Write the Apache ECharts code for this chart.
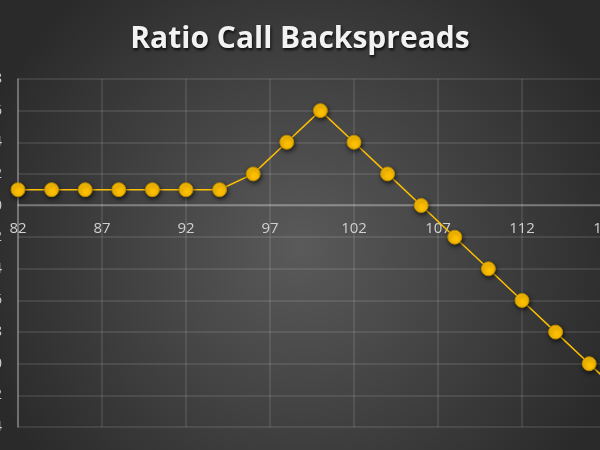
<!DOCTYPE html>
<html>
<head>
<meta charset="utf-8">
<script src="https://cdn.jsdelivr.net/npm/echarts@6/dist/echarts.min.js"></script>
<style>html,body{margin:0;padding:0;background:#3a3a3a;}#c{width:600px;height:450px;}</style>
</head>
<body>
<div id="c"></div>
<script>
var titleText = 'Ratio Call Backspreads';
var strikes = [82, 84, 86, 88, 90, 92, 94, 96, 98, 100, 102, 104, 106, 108, 110, 112, 114, 116, 118];
var payoff  = [1, 1, 1, 1, 1, 1, 1, 2, 4, 6, 4, 2, 0, -2, -4, -6, -8, -10, -12];

var chart = echarts.init(document.getElementById('c'));
chart.setOption({
  animation: false,
  backgroundColor: {
    type: 'radial', x: 0.5, y: 0.55, r: 0.75,
    colorStops: [{offset: 0, color: '#5a5a5a'}, {offset: 1, color: '#2a2a2a'}]
  },
  title: {
    text: titleText, left: 'center', top: 19,
    textStyle: {
      color: '#f2f2f2', fontFamily: 'Open Sans', fontWeight: 'bold', fontSize: 30,
      textShadowColor: 'rgba(0,0,0,0.8)', textShadowBlur: 3, textShadowOffsetX: 1, textShadowOffsetY: 2
    }
  },
  grid: { left: 18, right: -56.4, top: 79, bottom: 23, containLabel: false, outerBoundsMode: 'none' },
  xAxis: {
    type: 'value', min: 82, max: 120, interval: 5,
    offset: -221.9,
    axisLine: { show: true, onZero: false, lineStyle: { color: 'rgba(255,255,255,0.35)', width: 1.5 } },
    axisTick: { show: false },
    axisLabel: { color: '#d0d0d0', fontFamily: 'Open Sans', fontSize: 15, margin: 16,
      showMaxLabel: false },
    splitLine: { show: true, lineStyle: { color: 'rgba(255,255,255,0.13)', width: 1.5 } }
  },
  yAxis: {
    type: 'value', min: -14, max: 8, interval: 2,
    axisLine: { show: true, onZero: false, lineStyle: { color: 'rgba(255,255,255,0.35)', width: 1.5 } },
    axisTick: { show: false },
    axisLabel: { color: '#d0d0d0', fontFamily: 'Open Sans', fontSize: 14, margin: 16 },
    splitLine: { show: true, lineStyle: { color: 'rgba(255,255,255,0.13)', width: 1.5 } }
  },
  series: [{
    type: 'line',
    data: strikes.map(function (s, i) { return [s, payoff[i]]; }),
    symbol: 'circle', symbolSize: 14,
    lineStyle: { color: '#FFC000', width: 1.5 },
    itemStyle: { color: '#FFC000', borderColor: '#b88a00', borderWidth: 1,
      shadowColor: 'rgba(0,0,0,0.6)', shadowBlur: 4, shadowOffsetX: 1, shadowOffsetY: 2 },
    clip: false
  }]
});
</script>
</body>
</html>
